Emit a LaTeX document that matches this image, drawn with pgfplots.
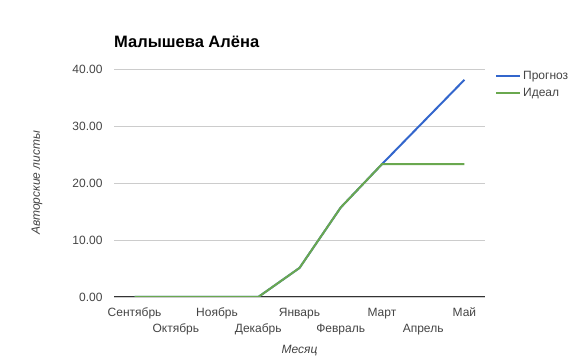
\documentclass[border=0pt]{standalone}
\usepackage{fontspec}
\setmainfont{Liberation Sans}
\usepackage{pgfplots}
\pgfplotsset{compat=1.18}
\definecolor{gblue}{HTML}{3366CC}
\definecolor{ggreen}{HTML}{6AA84F}
\definecolor{gtext}{HTML}{444444}
\definecolor{ggrid}{HTML}{CCCCCC}
\definecolor{gaxis}{HTML}{333333}
\begin{document}
\begin{tikzpicture}[x=1pt,y=1pt]
\path[use as bounding box] (0,0) rectangle (579,361);
\begin{axis}[
  at={(114pt,64pt)}, anchor=south west,
  scale only axis, width=371pt, height=228pt,
  xmin=-0.5, xmax=8.5, ymin=0, ymax=40,
  axis x line*=bottom, axis y line*=left,
  y axis line style={draw=none},
  x axis line style={draw=gaxis, line width=1pt},
  ytick={0,10,20,30,40},
  ymajorgrids, grid style={draw=ggrid, line width=0.8pt},
  major tick length=0pt,
  xtick={0,1,2,3,4,5,6,7,8},
  xticklabels={{\strut Сентябрь},{\strut\\\strut Октябрь},{\strut Ноябрь},{\strut\\\strut Декабрь},{\strut Январь},{\strut\\\strut Февраль},{\strut Март},{\strut\\\strut Апрель},{\strut Май}},
  xticklabel style={align=center, anchor=north, font=\fontsize{12}{16.5}\selectfont, text=gtext, yshift=-4pt},
  yticklabel style={font=\fontsize{12}{14}\selectfont, text=gtext, xshift=-8pt,
    /pgf/number format/.cd, fixed, fixed zerofill, precision=2, assume math mode=true},
  title={Малышева Алёна},
  title style={at={(axis description cs:0,1)}, anchor=base west, inner sep=0pt, yshift=15pt, font=\fontsize{16.5}{19}\selectfont\bfseries, text=black},
  ylabel={Авторские листы},
  ylabel style={at={(axis description cs:0,0.5)}, anchor=center, yshift=77pt, font=\fontsize{12}{14}\selectfont\itshape, text=gtext},
  xlabel={Месяц},
  xlabel style={at={(axis description cs:0.5,0)}, anchor=center, yshift=-54pt, font=\fontsize{12}{14}\selectfont\itshape, text=gtext},
  legend style={draw=none, fill=none, at={(axis description cs:1,1)}, anchor=north west, xshift=7pt, yshift=2pt, font=\fontsize{12}{14}\selectfont, text=gtext, row sep=3pt},
  legend cell align=left,
  legend image code/.code={\draw[#1, line width=2pt] (0pt,0pt) -- (24pt,0pt);},
]
\addplot[gblue, line width=2pt] coordinates {(0,0) (1,0) (2,0) (3,0) (4,5.1) (5,15.7) (6,23.3) (7,30.7) (8,38.1)};
\addlegendentry{Прогноз}
\addplot[ggreen, line width=2pt] coordinates {(0,0) (1,0) (2,0) (3,0) (4,5.1) (5,15.7) (6,23.3) (7,23.3) (8,23.3)};
\addlegendentry{Идеал}
\end{axis}
\end{tikzpicture}
\end{document}
